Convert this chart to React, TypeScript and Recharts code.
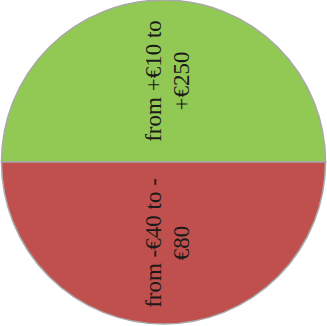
import { PieChart, Pie, Cell } from 'recharts';

const labels = ['from +€10 to +€250', 'from -€40 to -€80'];
const labelLines = [
  ['from +€10 to', '+€250'],
  ['from -€40 to -', '€80'],
];
const values = [1, 1];
const colors = ['#92C955', '#C0504D'];

const data = labels.map((name, i) => ({ name, value: values[i] }));

const RAD = Math.PI / 180;

function renderLabel(props: any) {
  const { cx, cy, midAngle, outerRadius, index } = props;
  const r = outerRadius * 0.5;
  const x = cx + r * Math.cos(-midAngle * RAD);
  const y = cy + r * Math.sin(-midAngle * RAD);
  const lines = labelLines[index];
  return (
    <text
      x={x}
      y={y}
      transform={`rotate(-90, ${x}, ${y})`}
      textAnchor="middle"
      fill="#1a1a1a"
      style={{ fontFamily: '"Liberation Serif", "Times New Roman", Times, serif', fontSize: 23 }}
    >
      <tspan x={x} dy={-3}>{lines[0]}</tspan>
      <tspan x={x} dy={28}>{lines[1]}</tspan>
    </text>
  );
}

export default function App() {
  return (
    <div style={{ position: 'absolute', left: 0, top: 0, width: 327, height: 326, background: '#fff' }}>
      <PieChart width={327} height={326} margin={{ top: 0, right: 0, bottom: 0, left: 0 }}>
        <Pie
          data={data}
          dataKey="value"
          nameKey="name"
          cx={163.5}
          cy={162}
          outerRadius={162}
          startAngle={0}
          endAngle={360}
          stroke="#a8a8a8"
          strokeWidth={1.5}
          label={renderLabel}
          labelLine={false}
          isAnimationActive={false}
        >
          {data.map((_, i) => (
            <Cell key={i} fill={colors[i]} />
          ))}
        </Pie>
      </PieChart>
    </div>
  );
}
